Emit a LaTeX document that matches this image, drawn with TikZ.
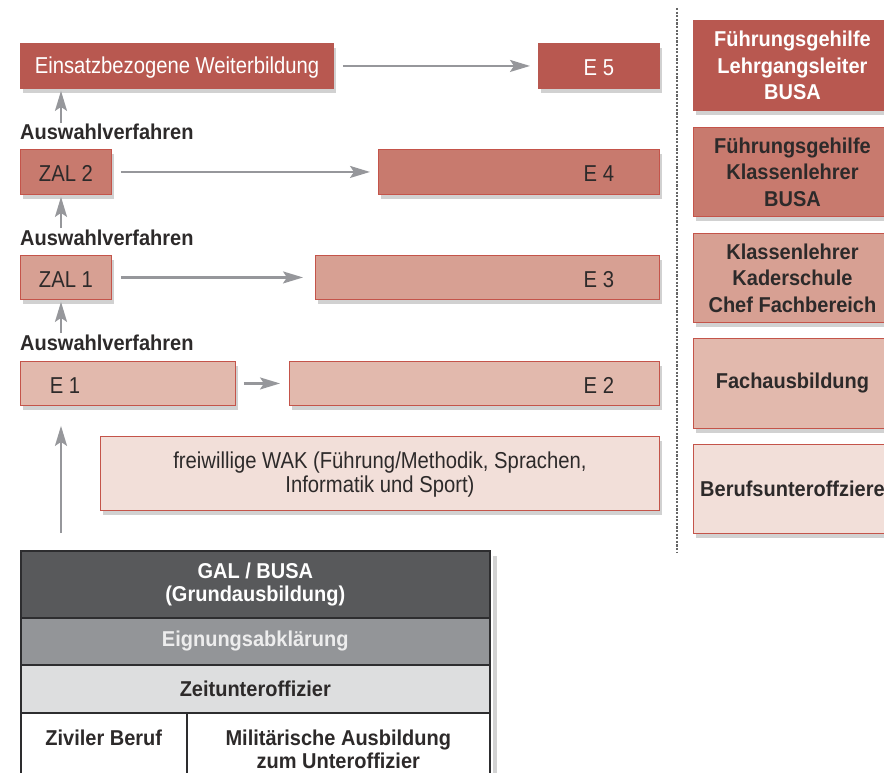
\documentclass[tikz,border=0pt]{standalone}
\usepackage{fontspec}
\setmainfont{Liberation Sans}
\newfontfamily\lightf{Liberation Sans}[FakeStretch=0.88]
\newfontfamily\boldf{Liberation Sans Bold}[FakeStretch=0.93]
\usetikzlibrary{arrows.meta,shadows,calc}
\definecolor{cA}{RGB}{184,88,80}
\definecolor{cB}{RGB}{200,122,110}
\definecolor{cC}{RGB}{215,160,147}
\definecolor{cD}{RGB}{226,185,173}
\definecolor{cE}{RGB}{242,223,217}
\definecolor{bord}{RGB}{196,84,74}
\definecolor{arrg}{RGB}{150,151,155}
\definecolor{txtd}{RGB}{45,42,42}
\definecolor{tdark}{RGB}{88,89,91}
\definecolor{tgray}{RGB}{147,149,152}
\definecolor{tlight}{RGB}{221,222,223}
\definecolor{tbord}{RGB}{45,45,47}
\begin{document}
\begin{tikzpicture}[x=1pt,y=-1pt,
  box/.style={draw=bord, line width=0.9pt, anchor=north west, inner sep=0pt,
    drop shadow={shadow xshift=2.5pt, shadow yshift=-5pt, opacity=0.3, fill=black!60}},
  lt/.style={font=\lightf\fontsize{23}{24}\selectfont, text=txtd, align=center},
  bt/.style={font=\boldf\fontsize{21.5}{26.5}\selectfont, text=txtd, align=center},
  arr/.style={draw=arrg, line width=2.2pt, -{Stealth[length=20pt,width=12pt,inset=4pt]}},
  trow/.style={draw=tbord, line width=1.6pt, anchor=north west, inner sep=0pt, minimum width=469pt}
]
\path[use as bounding box] (0,0) rectangle (884,773);
\clip (0,0) rectangle (884,773);

% left column boxes
\node[box, fill=cA, draw=cA, minimum width=313pt, minimum height=45pt] (ew) at (20,43) {};
\node[lt, text=white] at ([yshift=-2pt]ew.center) {Einsatzbezogene Weiterbildung};
\node[box, fill=cA, draw=cA, minimum width=121pt, minimum height=45pt] (e5) at (538,43) {};
\node[lt, text=white] at ([xshift=-61pt,yshift=-2pt]e5.east) {E 5};

\node[bt, anchor=base west, inner sep=0pt] (l1) at (20,140) {Auswahlverfahren};
\node[box, fill=cB, minimum width=91pt, minimum height=45pt] (z2) at (20,149) {};
\node[lt] at ([yshift=-2pt]z2.center) {ZAL 2};
\node[box, fill=cB, minimum width=281pt, minimum height=45pt] (e4) at (378,149) {};
\node[lt] at ([xshift=-61pt,yshift=-2pt]e4.east) {E 4};

\node[bt, anchor=base west, inner sep=0pt] (l2) at (20,245) {Auswahlverfahren};
\node[box, fill=cC, minimum width=91pt, minimum height=44pt] (z1) at (20,255) {};
\node[lt] at ([yshift=-2pt]z1.center) {ZAL 1};
\node[box, fill=cC, minimum width=344pt, minimum height=44pt] (e3) at (315,255) {};
\node[lt] at ([xshift=-61pt,yshift=-2pt]e3.east) {E 3};

\node[bt, anchor=base west, inner sep=0pt] (l3) at (20,350) {Auswahlverfahren};
\node[box, fill=cD, minimum width=215pt, minimum height=44pt] (e1) at (20,361) {};
\node[lt] at ([xshift=45pt,yshift=-2pt]e1.west) {E 1};
\node[box, fill=cD, minimum width=370pt, minimum height=44pt] (e2) at (289,361) {};
\node[lt] at ([xshift=-61pt,yshift=-2pt]e2.east) {E 2};

\node[box, fill=cE, minimum width=559pt, minimum height=74pt] (wak) at (100,436) {};
\node[lt] at ([yshift=-1pt]wak.center) {freiwillige WAK (F\"uhrung/Methodik, Sprachen,\\Informatik und Sport)};

% arrows
\draw[arr, shorten <=9pt, shorten >=8pt] (ew.east) -- (e5.west);
\draw[arr, shorten <=9pt, shorten >=8pt] (z2.east) -- (e4.west);
\draw[arr, shorten <=9pt, shorten >=12pt] (z1.east) -- (e3.west);
\draw[arr, shorten <=8pt, shorten >=9pt] (e1.east) -- (e2.west);
\draw[arr] (l1.north west -| 61,0) ++(0,-1) -- ([yshift=-2pt]ew.south west -| 61,0);
\draw[arr] (l2.north west -| 61,0) ++(0,-1) -- ([yshift=-2pt]z2.south west -| 61,0);
\draw[arr] (l3.north west -| 61,0) ++(0,-1) -- ([yshift=-2pt]z1.south west -| 61,0);
\coordinate (st) at (61,533);
\draw[arr, shorten >=20pt] (st) -- (e1.south west -| st);

% dotted separator
\coordinate (dt) at (677,8);
\coordinate (db) at (677,553);
\draw[black!60, line width=1.3pt, dash pattern=on 2.2pt off 1.4pt] (dt) -- (db);

% right column
\node[box, fill=cA, draw=cA, minimum width=198pt, minimum height=90pt] (r1) at (693,20) {};
\node[bt, text=white] at (r1.center) {F\"uhrungsgehilfe\\Lehrgangsleiter\\BUSA};
\node[box, fill=cB, minimum width=198pt, minimum height=89pt] (r2) at (693,127) {};
\node[bt] at (r2.center) {F\"uhrungsgehilfe\\Klassenlehrer\\BUSA};
\node[box, fill=cC, minimum width=198pt, minimum height=89pt] (r3) at (693,233) {};
\node[bt] at (r3.center) {Klassenlehrer\\Kaderschule\\Chef Fachbereich};
\node[box, fill=cD, minimum width=198pt, minimum height=90pt] (r4) at (693,338) {};
\node[bt] at (r4.center) {Fachausbildung};
\node[box, fill=cE, minimum width=198pt, minimum height=89pt] (r5) at (693,444) {};
\node[bt] at (r5.center) {Berufsunteroffziere};

% table
\fill[black!70, opacity=0.25] (493,556) rectangle (497,780);
\node[trow, fill=tdark, minimum height=67pt] (t1) at (20,550) {};
\node[bt, text=white, font=\boldf\fontsize{21.5}{23}\selectfont] at (t1.center) {GAL / BUSA\\(Grundausbildung)};
\node[trow, fill=tgray, minimum height=47pt] (t2) at (20,617) {};
\node[bt, text=white!93!black] at (t2.center) {Eignungsabkl\"arung};
\node[trow, fill=tlight, minimum height=48pt] (t3) at (20,664) {};
\node[bt] at (t3.center) {Zeitunteroffizier};
\node[trow, fill=white, minimum width=166pt, minimum height=80pt] (t4) at (20,712) {};
\node[trow, fill=white, minimum width=303pt, minimum height=80pt] (t5) at (186,712) {};
\node[bt, anchor=base] at (t4.north |- 0,745) {Ziviler Beruf};
\node[bt, anchor=base, font=\boldf\fontsize{21.5}{23}\selectfont] at (t5.north |- 0,768) {Milit\"arische Ausbildung\\zum Unteroffizier};
\end{tikzpicture}
\end{document}
